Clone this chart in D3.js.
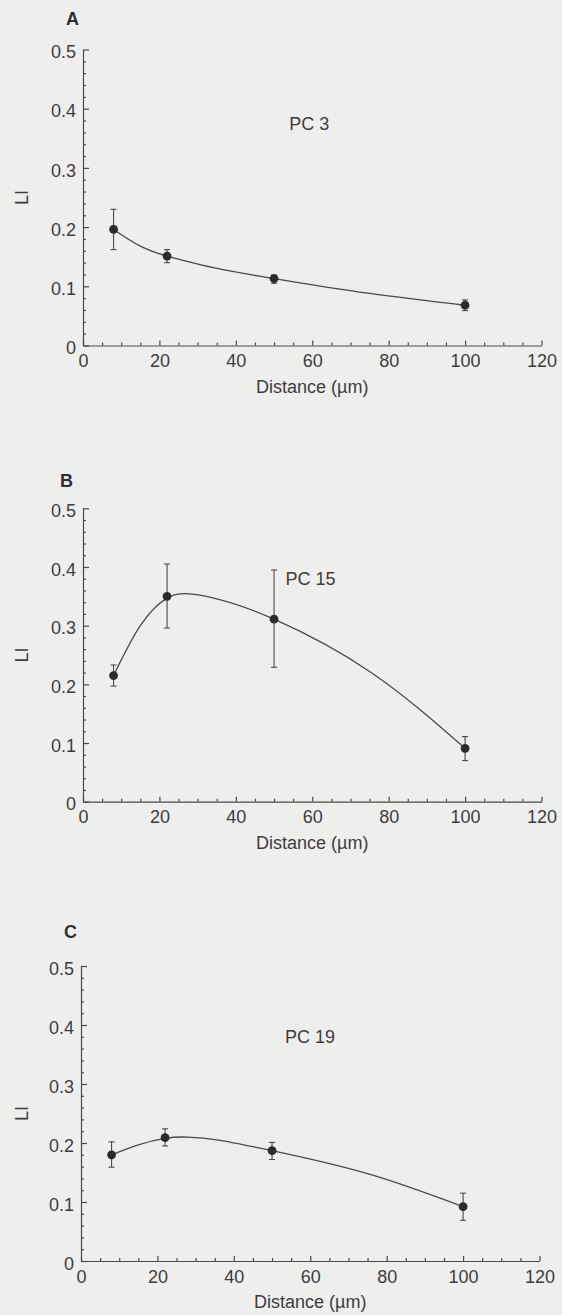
<!DOCTYPE html>
<html>
<head>
<meta charset="utf-8">
<script src="https://cdn.jsdelivr.net/npm/d3@7"></script>
<style>
  body { margin: 0; background: #eeeeec; }
  svg { display: block; font-family: "Liberation Sans", Arial, sans-serif; }
</style>
</head>
<body>
<div id="chart"></div>
<script>
// distance from surface (µm)
const distances = [8, 22, 50, 100];

// PC 3
const pc3LI = [0.196, 0.151, 0.113, 0.068];
const pc3Low = [0.162, 0.140, 0.105, 0.059];
const pc3High = [0.230, 0.162, 0.119, 0.077];

// PC 15
const pc15LI = [0.215, 0.350, 0.311, 0.091];
const pc15Low = [0.197, 0.296, 0.229, 0.070];
const pc15High = [0.233, 0.405, 0.395, 0.111];

// PC 19
const pc19LI = [0.180, 0.209, 0.187, 0.092];
const pc19Low = [0.159, 0.195, 0.172, 0.069];
const pc19High = [0.202, 0.224, 0.201, 0.115];

// fitted curves
const fitDist = [8, 15, 22, 28, 36, 50, 75, 100];
const pc3Fit = [0.196, 0.168, 0.151, 0.141, 0.129, 0.113, 0.088, 0.068];
const pc15Fit = [0.215, 0.300, 0.347, 0.354, 0.344, 0.311, 0.222, 0.091];
const pc19Fit = [0.180, 0.197, 0.208, 0.210, 0.205, 0.187, 0.148, 0.092];

const xTicks = [0, 20, 40, 60, 80, 100, 120];
const yTicks = [0, 0.1, 0.2, 0.3, 0.4, 0.5];
const panelLetters = ['A', 'B', 'C'];
const panelNames = ['PC 3', 'PC 15', 'PC 19'];

const series = [
    { li: pc3LI, low: pc3Low, high: pc3High, fit: pc3Fit },
    { li: pc15LI, low: pc15Low, high: pc15High, fit: pc15Fit },
    { li: pc19LI, low: pc19Low, high: pc19High, fit: pc19Fit }
];

// where each panel sits on the page
const layout = [
    { top: 49.5, bottom: 345.5, left: 83, right: 541.5, letterX: 66, letterY: 25, nameAt: [54, 0.364] },
    { top: 508.3, bottom: 801.7, left: 83, right: 541.5, letterX: 60, letterY: 487, nameAt: [53, 0.369] },
    { top: 966, bottom: 1261, left: 81, right: 539.5, letterX: 64, letterY: 938, nameAt: [53.4, 0.369] }
];

const width = 562;
const height = 1315;
const fontSize = '18px';
const ink = '#3d3d3d';
const lineInk = '#4a4a4a';

const svg = d3.select('#chart')
    .append('svg')
    .attr('width', width)
    .attr('height', height);

svg.append('rect')
    .attr('width', width)
    .attr('height', height)
    .attr('fill', '#eeeeec');

series.forEach((s, k) => {
    const L = layout[k];
    const x = d3.scaleLinear().domain([0, 120]).range([L.left, L.right]);
    const y = d3.scaleLinear().domain([0, 0.5]).range([L.bottom, L.top]);

    const g = svg.append('g');

    // minor ticks first
    g.append('g')
        .attr('transform', `translate(0,${L.bottom})`)
        .call(d3.axisBottom(x).tickValues(d3.range(0, 121, 5).filter(v => v % 20 !== 0)).tickSize(-3).tickFormat(''))
        .call(a => a.select('.domain').remove());
    g.append('g')
        .attr('transform', `translate(${L.left},0)`)
        .call(d3.axisLeft(y).tickValues(d3.range(0, 0.501, 0.02).filter((v, i) => i % 5 !== 0)).tickSize(-3).tickFormat(''))
        .call(a => a.select('.domain').remove());

    // x axis
    g.append('g')
        .attr('transform', `translate(0,${L.bottom})`)
        .call(d3.axisBottom(x).tickValues(xTicks).tickSize(-5).tickSizeOuter(0).tickPadding(9).tickFormat(d3.format('d')));

    // y axis
    const ya = g.append('g')
        .attr('transform', `translate(${L.left},0)`)
        .call(d3.axisLeft(y).tickValues(yTicks).tickSize(-6).tickSizeOuter(0).tickPadding(7)
            .tickFormat(d => d === 0 ? '0' : d3.format('.1f')(d)));
    ya.selectAll('text').attr('dy', '0.45em');

    g.selectAll('.domain, .tick line').attr('stroke', lineInk).attr('stroke-width', 1.2);
    g.selectAll('.tick text')
        .attr('fill', ink)
        .style('font-size', fontSize)
        .style('font-family', '"Liberation Sans", Arial, sans-serif');

    // axis titles
    g.append('text')
        .attr('x', (L.left + L.right) / 2)
        .attr('y', L.bottom + 47)
        .attr('text-anchor', 'middle')
        .attr('fill', ink)
        .style('font-size', fontSize)
        .text('Distance (µm)');

    g.append('text')
        .attr('transform', `translate(28,${(L.top + L.bottom) / 2}) rotate(-90)`)
        .attr('text-anchor', 'middle')
        .attr('fill', ink)
        .style('font-size', fontSize)
        .text('LI');

    // panel letter
    g.append('text')
        .attr('x', L.letterX)
        .attr('y', L.letterY)
        .attr('fill', '#2e2e2e')
        .style('font-size', fontSize)
        .style('font-weight', 'bold')
        .text(panelLetters[k]);

    // cell line name
    g.append('text')
        .attr('x', x(L.nameAt[0]))
        .attr('y', y(L.nameAt[1]))
        .attr('fill', ink)
        .style('font-size', fontSize)
        .text(panelNames[k]);

    // fitted curve
    g.append('path')
        .datum(fitDist.map((d, i) => [d, s.fit[i]]))
        .attr('fill', 'none')
        .attr('stroke', lineInk)
        .attr('stroke-width', 1.3)
        .attr('d', d3.line().x(p => x(p[0])).y(p => y(p[1])).curve(d3.curveNatural));

    const pts = distances.map((d, i) => ({ d, v: s.li[i], lo: s.low[i], hi: s.high[i] }));

    // error bars
    const eb = g.selectAll('.eb')
        .data(pts)
        .enter()
        .append('g')
        .attr('stroke', lineInk)
        .attr('stroke-width', 1.1);
    eb.append('line')
        .attr('x1', p => x(p.d)).attr('x2', p => x(p.d))
        .attr('y1', p => y(p.lo)).attr('y2', p => y(p.hi));
    eb.append('line')
        .attr('x1', p => x(p.d) - 3).attr('x2', p => x(p.d) + 3)
        .attr('y1', p => y(p.lo)).attr('y2', p => y(p.lo));
    eb.append('line')
        .attr('x1', p => x(p.d) - 3).attr('x2', p => x(p.d) + 3)
        .attr('y1', p => y(p.hi)).attr('y2', p => y(p.hi));

    // points
    g.selectAll('.pt')
        .data(pts)
        .enter()
        .append('circle')
        .attr('cx', p => x(p.d))
        .attr('cy', p => y(p.v))
        .attr('r', 4.4)
        .attr('fill', '#2b2b2b');
});
</script>
</body>
</html>
